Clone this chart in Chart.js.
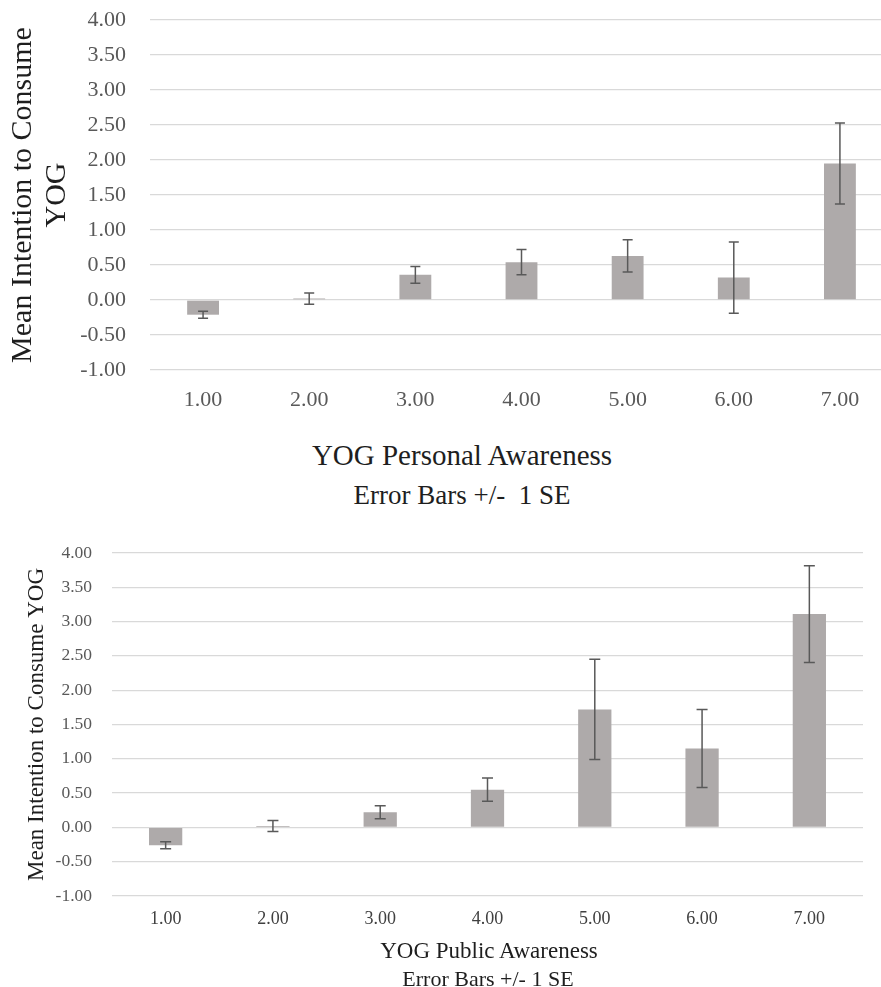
<!DOCTYPE html>
<html>
<head>
<meta charset="utf-8">
<script src="https://cdn.jsdelivr.net/npm/chart.js@4/dist/chart.umd.min.js"></script>
<style>
  html, body { margin: 0; padding: 0; background: #fff; overflow: hidden; width: 881px; height: 987px; }
  .wrap { position: absolute; }
  .xt { position: absolute; text-align: center; font-family: "Liberation Serif", serif; color: #1e1e1e; line-height: 1; white-space: pre; }
</style>
</head>
<body>
<div class="wrap" style="left:0;top:0;width:900px;height:420px;"><canvas id="c1" width="900" height="420"></canvas></div>
<div class="wrap" style="left:0;top:520px;width:881px;height:467px;"><canvas id="c2" width="881" height="467"></canvas></div>
<div class="xt" style="left:0;width:924px;top:441px;font-size:29px;">YOG Personal Awareness</div>
<div class="xt" style="left:0;width:924px;top:482px;font-size:27px;">Error Bars +/-  1 SE</div>
<div class="xt" style="left:0;width:978px;top:939px;font-size:23px;">YOG Public Awareness</div>
<div class="xt" style="left:0;width:976px;top:968px;font-size:22px;">Error Bars +/- 1 SE</div>
<script>
// ---- data ----
const categories = ['1.00', '2.00', '3.00', '4.00', '5.00', '6.00', '7.00'];
const personalMeans = [-0.21, 0.02, 0.36, 0.54, 0.63, 0.32, 1.95];
const personalSE    = [0.05, 0.08, 0.12, 0.18, 0.23, 0.51, 0.58];
const publicMeans   = [-0.26, 0.02, 0.22, 0.55, 1.72, 1.15, 3.11];
const publicSE      = [0.05, 0.08, 0.095, 0.17, 0.73, 0.57, 0.705];
const yMin = -1, yMax = 4, yStep = 0.5;
const personalYTitle = ['Mean Intention to Consume', 'YOG'];
const publicYTitle = 'Mean Intention to Consume YOG';

const BAR = '#AEAAAA', GRID = '#D9D9D9', ERR = '#595959', TICK = '#595959';
const SERIF = '"Liberation Serif", serif';

function errorBarPlugin(seArr, capHalf) {
  return {
    id: 'errbars',
    afterDatasetsDraw(chart) {
      const meta = chart.getDatasetMeta(0);
      const ys = chart.scales.y;
      const vals = chart.data.datasets[0].data;
      const ctx = chart.ctx;
      ctx.save();
      ctx.strokeStyle = ERR;
      ctx.lineWidth = 1.5;
      meta.data.forEach((bar, i) => {
        const x = bar.x;
        const yHi = ys.getPixelForValue(vals[i] + seArr[i]);
        const yLo = ys.getPixelForValue(vals[i] - seArr[i]);
        ctx.beginPath();
        ctx.moveTo(x, yHi); ctx.lineTo(x, yLo);
        ctx.moveTo(x - capHalf, yHi); ctx.lineTo(x + capHalf, yHi);
        ctx.moveTo(x - capHalf, yLo); ctx.lineTo(x + capHalf, yLo);
        ctx.stroke();
      });
      ctx.restore();
    }
  };
}

function makeChart(id, means, se, cfg) {
  return new Chart(document.getElementById(id), {
    type: 'bar',
    data: {
      labels: categories,
      datasets: [{ data: means, backgroundColor: BAR, borderWidth: 0,
                   barPercentage: cfg.barPct, categoryPercentage: 1 }]
    },
    options: {
      responsive: false,
      animation: false,
      devicePixelRatio: 1,
      layout: { padding: cfg.padding },
      plugins: { legend: { display: false }, tooltip: { enabled: false } },
      scales: {
        x: {
          grid: { display: false, drawTicks: false },
          border: { display: false },
          ticks: { color: cfg.xTickColor, font: { family: SERIF, size: cfg.xTickSize }, padding: cfg.xTickPad, maxRotation: 0 },
          afterFit: s => { s.height = cfg.xHeight; }
        },
        y: {
          min: yMin, max: yMax,
          grid: { color: GRID, lineWidth: 1.3, drawTicks: false },
          border: { display: false },
          ticks: { stepSize: yStep, color: TICK, font: { family: SERIF, size: cfg.yTickSize }, padding: cfg.yTickPad,
                   callback: v => v.toFixed(2) },
          title: { display: true, text: cfg.yTitle, color: '#1e1e1e',
                   font: { family: SERIF, size: cfg.yTitleSize, lineHeight: cfg.yTitleLH },
                   padding: { top: cfg.yTitlePad, bottom: 0 } },
          afterFit: s => { s.width = cfg.yWidth; s.paddingTop = 0; s.paddingBottom = 0; }
        }
      }
    },
    plugins: [errorBarPlugin(se, cfg.cap)]
  });
}

makeChart('c1', personalMeans, personalSE, {
  barPct: 0.30, padding: { left: 0, right: 7, top: 20, bottom: 0 },
  xTickColor: TICK, xTickSize: 22, xTickPad: 17, xHeight: 50,
  yTickSize: 22, yTickPad: 24, yTitle: personalYTitle, yTitleSize: 30, yTitleLH: 1.133, yTitlePad: 6,
  yWidth: 150, cap: 5
});

makeChart('c2', publicMeans, publicSE, {
  barPct: 0.31, padding: { left: 0, right: 18, top: 33, bottom: 0 },
  xTickColor: '#404040', xTickSize: 18, xTickPad: 12, xHeight: 91,
  yTickSize: 17.5, yTickPad: 20, yTitle: publicYTitle, yTitleSize: 23, yTitleLH: 1.2, yTitlePad: 23,
  yWidth: 112, cap: 5.5
});
</script>
</body>
</html>
